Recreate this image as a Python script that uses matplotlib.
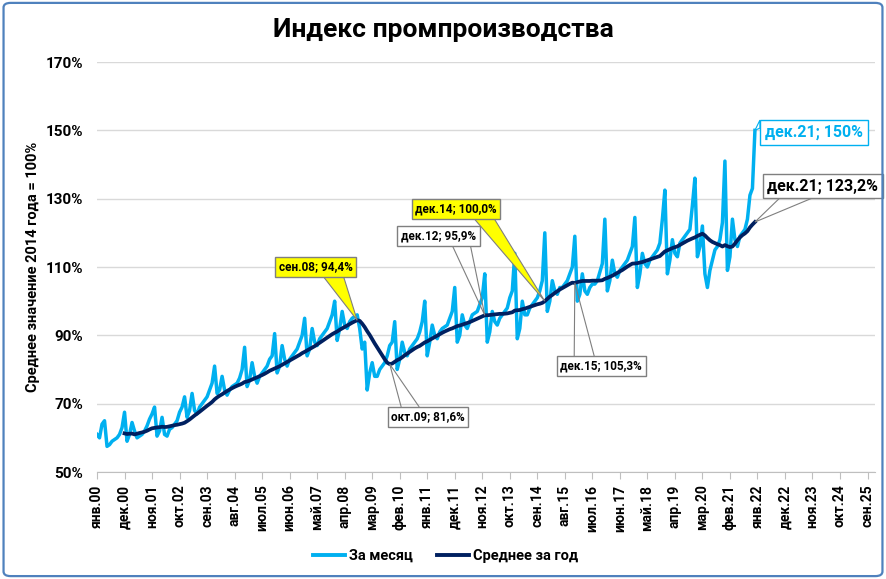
import numpy as np
import pandas as pd
import matplotlib
matplotlib.use("Agg")
import matplotlib.pyplot as plt
from matplotlib.patches import FancyBboxPatch, Polygon
from matplotlib.lines import Line2D

plt.rcParams['font.family'] = ['Roboto', 'DejaVu Sans']

# ---------------- data (monthly index, % of 2014 average) ----------------
monthly_2000 = [61, 60, 64, 65, 57.5, 58, 59, 59.5, 60, 61, 63, 67.5]
monthly_2001 = [59, 61, 64.5, 62, 60, 60.5, 61, 62, 63.5, 65.5, 67, 69]
monthly_2002 = [60.5, 62, 66, 61, 60.5, 62.5, 63, 64, 65, 67.5, 69, 72]
monthly_2003 = [66, 68, 73, 68, 67, 69, 70, 71, 72, 74, 76, 81]
monthly_2004 = [73, 74, 78, 74, 72.5, 74, 75, 75.5, 76, 77.5, 80, 86.5]
monthly_2005 = [75, 77, 82, 78, 76, 78, 79, 80, 81, 83, 84, 90.5]
monthly_2006 = [79, 81, 87, 83, 81, 83, 84, 85, 86, 88, 90, 95]
monthly_2007 = [84, 86, 92, 88, 87, 89, 90, 91, 92, 94, 96, 100]
monthly_2008 = [88.5, 92, 97, 93, 92, 94, 95, 95.5, 96, 92, 86, 88]
monthly_2009 = [74, 79, 82, 78, 78, 80, 81, 82, 84, 87, 88, 94]
monthly_2010 = [80, 83, 88, 85, 84, 86, 87, 88, 89, 91, 94, 100]
monthly_2011 = [84, 88, 93, 90, 89, 91, 92, 92.5, 93, 95, 97, 104]
monthly_2012 = [88, 90, 96, 93, 92, 94, 96, 96.5, 97, 99, 101, 108]
monthly_2013 = [88, 91, 97, 94, 93, 95, 96, 97, 98, 101, 103, 114]
monthly_2014 = [89, 92, 100, 96, 96, 98, 99, 100, 101, 103, 106, 120]
monthly_2015 = [97, 100, 106, 103, 102, 104, 104, 105, 106, 108, 110, 119]
monthly_2016 = [100, 102, 108, 103, 102, 104, 105, 105, 106, 108.5, 111, 124]
monthly_2017 = [103, 106, 112, 108, 107, 109, 110, 111, 112, 114, 116, 124.5]
monthly_2018 = [104, 108, 114, 111, 110, 112, 113, 114, 115, 117, 124, 132.5]
monthly_2019 = [108, 112, 118, 114, 113, 117, 118, 119, 120, 121, 128, 136]
monthly_2020 = [113, 116, 122, 108, 104, 109, 112, 115, 116, 118, 123, 141]
monthly_2021 = [109, 113, 124, 118, 116, 119, 120, 121, 124, 131, 133, 150]

month_abbr = ['янв', 'фев', 'мар', 'апр', 'май', 'июн',
              'июл', 'авг', 'сен', 'окт', 'ноя', 'дек']
tick_labels = ['янв.00', 'дек.00', 'ноя.01', 'окт.02', 'сен.03', 'авг.04',
               'июл.05', 'июн.06', 'май.07', 'апр.08', 'мар.09', 'фев.10',
               'янв.11', 'дек.11', 'ноя.12', 'окт.13', 'сен.14', 'авг.15',
               'июл.16', 'июн.17', 'май.18', 'апр.19', 'мар.20', 'фев.21',
               'янв.22', 'дек.22', 'ноя.23', 'окт.24', 'сен.25']
y_ticks = [50, 70, 90, 110, 130, 150, 170]
n_categories = 312   # янв.00 ... дек.25

# ---------------- series ----------------
monthly = np.array(monthly_2000 + monthly_2001 + monthly_2002 + monthly_2003 +
                   monthly_2004 + monthly_2005 + monthly_2006 + monthly_2007 +
                   monthly_2008 + monthly_2009 + monthly_2010 + monthly_2011 +
                   monthly_2012 + monthly_2013 + monthly_2014 + monthly_2015 +
                   monthly_2016 + monthly_2017 + monthly_2018 + monthly_2019 +
                   monthly_2020 + monthly_2021, dtype=float)
avg = pd.Series(monthly).rolling(12).mean().to_numpy()
x = np.arange(len(monthly))

def mname(i):
    return f"{month_abbr[i % 12]}.{(i // 12) % 100:02d}"

def pct1(v):
    return f"{v:.1f}".replace('.', ',') + '%'

# ---------------- figure ----------------
fig = plt.figure(figsize=(8.86, 5.79), dpi=100)
fig.patch.set_facecolor('white')
border = FancyBboxPatch((0.004, 0.005), 0.992, 0.99,
                        boxstyle='round,pad=0,rounding_size=0.008',
                        transform=fig.transFigure, fill=False,
                        ec='#4F81BD', lw=1.6, zorder=10)
fig.patches.append(border)

ax = fig.add_axes([0.1095, 0.1848, 0.8781, 0.7081])
ax.plot(x, monthly, color='#00B0F0', lw=2.5, solid_joinstyle='round', zorder=3)
ax.plot(x, avg, color='#002060', lw=2.7, solid_joinstyle='round', zorder=4)

ax.set_xlim(0, n_categories - 1)
ax.set_ylim(y_ticks[0], y_ticks[-1])
ax.set_yticks(y_ticks)
ax.set_yticklabels([f"{v}%" for v in y_ticks], fontsize=11, fontweight='bold')
ax.set_xticks(np.arange(0, n_categories, 11)[:len(tick_labels)])
ax.set_xticklabels(tick_labels, rotation=90, fontsize=10, fontweight='bold')
ax.tick_params(axis='y', length=0, pad=10)
ax.tick_params(axis='x', length=5, color='#BFBFBF', pad=4)
ax.grid(axis='y', color='#D9D9D9', lw=1)
ax.set_axisbelow(True)
for s in ['top', 'right', 'left']:
    ax.spines[s].set_visible(False)
ax.spines['bottom'].set_color('#BFBFBF')
ax.set_ylabel('Среднее значение 2014 года = 100%', fontsize=10.5,
              fontweight='bold', labelpad=4)

fig.text(0.5, 0.948, 'Индекс промпроизводства', ha='center', va='center',
         fontsize=19, fontweight='bold')

# ---------------- annotations ----------------
callouts = []

def callout(idx, series, text, xytext, fc, ec, tc, fs, relpos, base_px, wfc):
    t = ax.text(xytext[0], xytext[1], text, ha='center', va='center',
                fontsize=fs, fontweight='bold', color=tc, zorder=7,
                bbox=dict(boxstyle='square,pad=0.3', fc=fc, ec=ec, lw=1))
    callouts.append((t, (idx, series[idx]), relpos, base_px, fc if wfc else 'none', ec))

gray = '#7F7F7F'
i = 104
callout(i, avg, f"{mname(i)}; {pct1(avg[i])}", (87.5, 110.0),
        '#FFFF00', gray, 'black', 8.5, (0.72, 0.0), 20, True)
i = 179
callout(i, avg, f"{mname(i)}; {pct1(avg[i])}", (143.5, 127.0),
        '#FFFF00', gray, 'black', 8.5, (0.82, 0.0), 20, True)
i = 155
callout(i, avg, f"{mname(i)}; {pct1(avg[i])}", (136.5, 119.1),
        'white', gray, 'black', 8.5, (0.78, 0.0), 18, False)
i = 117
callout(i, avg, f"{mname(i)}; {pct1(avg[i])}", (132.3, 66.1),
        'white', gray, 'black', 8.5, (0.28, 1.0), 18, False)
i = 191
callout(i, avg, f"{mname(i)}; {pct1(avg[i])}", (201.5, 81.0),
        'white', gray, 'black', 8.5, (0.31, 1.0), 20, False)
i = 263
callout(i, avg, f"{mname(i)}; {pct1(avg[i])}", (290.2, 133.7),
        'white', gray, 'black', 11.5, (0.27, 0.0), 32, False)
callout(i, monthly, f"{mname(i)}; {monthly[i]:.0f}%", (286.5, 149.5),
        'white', '#00B0F0', '#00B0F0', 11.5, (0.0, 0.82), 8, True)

fig.canvas.draw()
renderer = fig.canvas.get_renderer()
inv = ax.transData.inverted()
for t, target, relpos, base_px, wfc, ec in callouts:
    bb = t.get_bbox_patch().get_window_extent(renderer)
    bx = bb.x0 + relpos[0] * bb.width
    by = bb.y0 + relpos[1] * bb.height
    if relpos[1] in (0.0, 1.0):
        p1 = (bx - base_px / 2, by)
        p2 = (bx + base_px / 2, by)
    else:
        p1 = (bx, by - base_px / 2)
        p2 = (bx, by + base_px / 2)
    tip = ax.transData.transform(target)
    pts = inv.transform(np.array([p1, tip, p2]))
    poly = Polygon(pts, closed=(wfc != 'none'), fc=wfc, ec=ec, lw=0.8,
                   zorder=6, clip_on=False)
    ax.add_patch(poly)

# ---------------- legend ----------------
handles = [Line2D([], [], color='#00B0F0', lw=2.8),
           Line2D([], [], color='#002060', lw=2.8)]
fig.legend(handles, ['За месяц', 'Среднее за год'], loc='center',
           bbox_to_anchor=(0.503, 0.04), ncol=2, frameon=False,
           prop={'weight': 'bold', 'size': 10.5}, handlelength=2.2,
           handletextpad=0.3, columnspacing=1.6)

fig.savefig('out.png', dpi=100, facecolor='white')
